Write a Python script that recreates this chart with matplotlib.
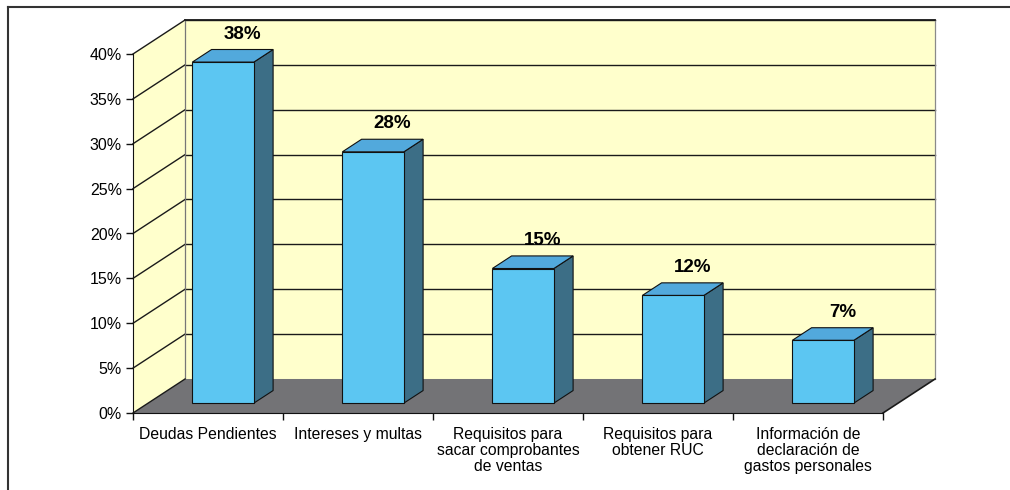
import matplotlib
matplotlib.use("Agg")
import matplotlib.pyplot as plt
from matplotlib.patches import Polygon
from matplotlib.lines import Line2D

plt.rcParams['font.family'] = ['Liberation Sans', 'DejaVu Sans']

# ---- data ----
categories = ["Deudas Pendientes", "Intereses y multas",
              "Requisitos para\nsacar comprobantes\nde ventas",
              "Requisitos para\nobtener RUC",
              "Información de\ndeclaración de\ngastos personales"]
values = [38, 28, 15, 12, 7]
labels = ["38%", "28%", "15%", "12%", "7%"]
yticks = [0, 5, 10, 15, 20, 25, 30, 35, 40]
ytick_labels = ["0%", "5%", "10%", "15%", "20%", "25%", "30%", "35%", "40%"]

# ---- style / geometry ----
W, H = 1010, 490
DX, DY = 0.347, 3.79          # full depth offset (category units, percent units)
F0, F1 = 0.29, 0.66           # bar front / back depth fractions
BW = 0.41                     # bar width
wall_c = '#FFFFCC'
floor_c = '#737376'
front_c = '#5CC6F2'
top_c = '#52A9DC'
side_c = '#3C6E86'

fig = plt.figure(figsize=(W / 100, H / 100), dpi=100)
ax = fig.add_axes([133 / W, (H - 413) / H, 750 / W, (413 - 54) / H])
ax.set_xlim(-0.5, len(values) - 0.5)
ax.set_ylim(0, 40)
ax.patch.set_visible(False)

x0, x1 = -0.5, len(values) - 0.5
ymax = yticks[-1]

# walls and floor
ax.add_patch(Polygon([(x0 + DX, DY), (x1 + DX, DY), (x1 + DX, ymax + DY), (x0 + DX, ymax + DY)],
                     closed=True, facecolor=wall_c, edgecolor='none', zorder=0, clip_on=False))
ax.add_patch(Polygon([(x0, 0), (x0 + DX, DY), (x0 + DX, ymax + DY), (x0, ymax)],
                     closed=True, facecolor=wall_c, edgecolor='none', zorder=0, clip_on=False))
ax.add_patch(Polygon([(x0, 0), (x1, 0), (x1 + DX, DY), (x0 + DX, DY)],
                     closed=True, facecolor=floor_c, edgecolor='none', zorder=1, clip_on=False))

# gridlines
for v in yticks[1:]:
    ax.plot([x0 + DX, x1 + DX], [v + DY, v + DY], color='#1a1a1a', lw=1.0, zorder=1, clip_on=False)
    ax.plot([x0, x0 + DX], [v, v + DY], color='#1a1a1a', lw=1.0, zorder=1, clip_on=False)
# wall/floor edges
ax.plot([x0, x0 + DX], [0, DY], color='#1a1a1a', lw=1.0, zorder=2, clip_on=False)
ax.plot([x1, x1 + DX], [0, DY], color='#1a1a1a', lw=1.2, zorder=2, clip_on=False)
ax.plot([x0 + DX, x0 + DX], [DY, ymax + DY], color='#777777', lw=0.9, zorder=1, clip_on=False)
ax.plot([x1 + DX, x1 + DX], [DY, ymax + DY], color='#8a8a8a', lw=0.9, zorder=1, clip_on=False)
ax.plot([x0 + DX, x1 + DX], [ymax + DY, ymax + DY], color='#1a1a1a', lw=1.3, zorder=2, clip_on=False)

# bars
xs = list(range(len(values)))
xf = [x + F0 * DX for x in xs]
ax.bar(xf, values, bottom=F0 * DY, width=BW, color=front_c, edgecolor='#111111',
       linewidth=0.8, zorder=5, clip_on=False)
ddx, ddy = (F1 - F0) * DX, (F1 - F0) * DY
for x, v in zip(xf, values):
    l, r = x - BW / 2, x + BW / 2
    b, t = F0 * DY, v + F0 * DY
    ax.add_patch(Polygon([(r, b), (r + ddx, b + ddy), (r + ddx, t + ddy), (r, t)], closed=True,
                         facecolor=side_c, edgecolor='#111111', lw=0.8, zorder=4, clip_on=False))
    ax.add_patch(Polygon([(l, t), (r, t), (r + ddx, t + ddy), (l + ddx, t + ddy)], closed=True,
                         facecolor=top_c, edgecolor='#111111', lw=0.8, zorder=4, clip_on=False))

for x, v, s in zip(xf, values, labels):
    ax.annotate(s, xy=(x + ddx, v + F0 * DY + ddy), xytext=(0, 5), textcoords='offset points',
                ha='center', va='bottom', fontsize=13.5, fontweight='bold', zorder=6,
                annotation_clip=False)

# axes
for side in ('top', 'right'):
    ax.spines[side].set_visible(False)
ax.spines['left'].set_color('#111111')
ax.spines['bottom'].set_color('#111111')
ax.spines['left'].set_zorder(3)
ax.spines['bottom'].set_zorder(3)
ax.set_yticks(yticks)
ax.set_yticklabels(ytick_labels, fontsize=11.5)
ax.tick_params(axis='y', length=5, width=1, pad=3, color='#111111')
ax.set_xticks(xs)
ax.set_xticklabels(categories, fontsize=11.3, linespacing=1.08)
ax.tick_params(axis='x', which='major', length=0, pad=10)
ax.set_xticks([x - 0.5 for x in xs] + [xs[-1] + 0.5], minor=True)
ax.tick_params(axis='x', which='minor', length=5, width=1, color='#111111')

# outer border
fig.add_artist(Line2D([8 / W, 1.0], [1 - 7 / H, 1 - 7 / H], transform=fig.transFigure,
                      color='#333333', lw=1.5))
fig.add_artist(Line2D([8 / W, 8 / W], [0, 1 - 7 / H], transform=fig.transFigure,
                      color='#333333', lw=1.5))

fig.savefig('out.png', dpi=100)
